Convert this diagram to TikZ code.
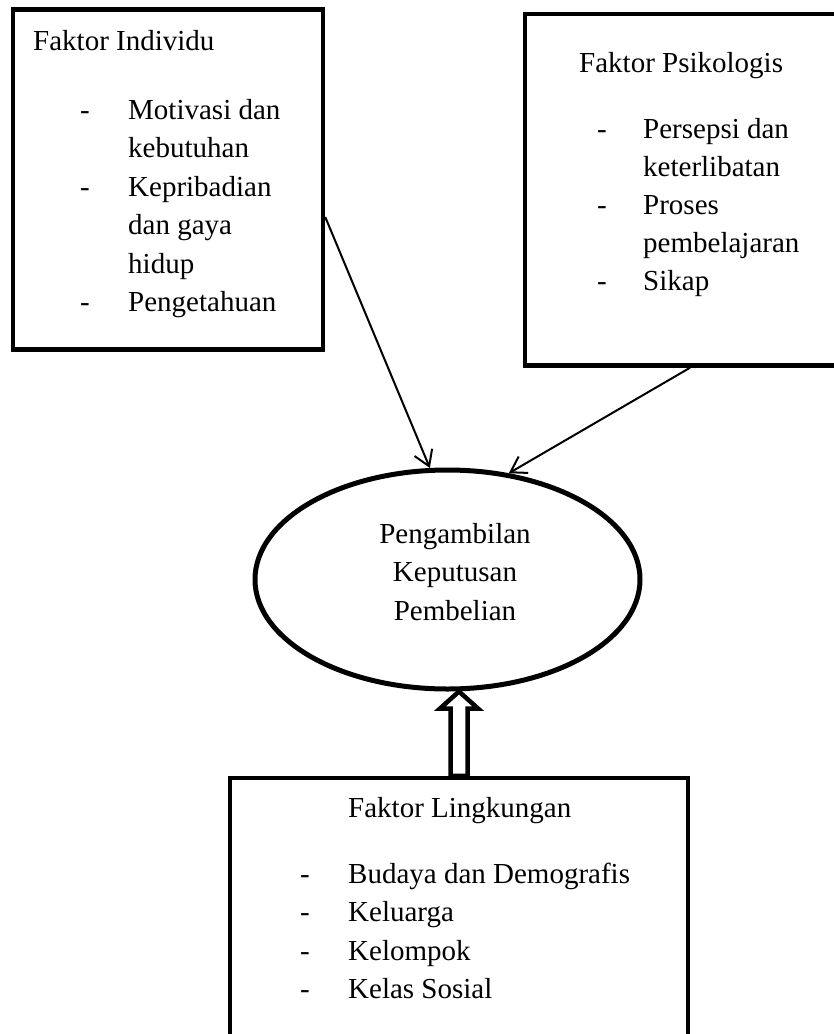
\documentclass[tikz,border=0pt]{standalone}
\usepackage{fontspec}
\setmainfont{Liberation Serif}
\usetikzlibrary{shapes.geometric,arrows.meta,calc}

\newcommand{\daftar}[2]{\begin{tabular}[t]{@{}p{#1}@{}l@{}}#2\end{tabular}}

\tikzset{
    every node/.style={font=\fontsize{29}{38.5}\selectfont},
    kotak/.style={draw=black, line width=4.5pt, inner sep=0pt},
    teks/.style={anchor=base west, inner sep=0pt},
    panah/.style={line width=2pt, -{Straight Barb[length=15pt,width=19pt]}},
    blok/.style={draw=black, fill=white, line width=4.5pt, line join=miter}
}

\begin{document}
\begin{tikzpicture}[x=1pt, y=-1pt]
                \useasboundingbox (0,0) rectangle (834,1034);
                \clip (0,0) rectangle (834,1034);

                % kotak faktor
                \node[kotak, minimum width=310pt, minimum height=340pt] (individu) at (168,179.5) {};
                \node[kotak, minimum width=330pt, minimum height=351.5pt] (psikologis) at (690,189.75) {};
                \node[kotak, minimum width=458pt, minimum height=322pt] (lingkungan) at (459,939) {};
                \node[ellipse, draw=black, line width=5pt, inner sep=0pt, minimum width=385pt, minimum height=219pt] (keputusan) at (447.5,579.5) {};

                % isi kotak
                \node[teks] (judul1) at (33,50) {Faktor Individu};
                \node[teks] (isi1) at (80,119) {\daftar{48pt}{-&Motivasi dan\\&kebutuhan\\-&Kepribadian\\&dan gaya\\&hidup\\-&Pengetahuan}};
                \node[teks] (judul2) at (579,72) {Faktor Psikologis};
                \node[teks, font=\fontsize{29}{38}\selectfont] (isi2) at (597,138) {\daftar{46pt}{-&Persepsi dan\\&keterlibatan\\-&Proses\\&pembelajaran\\-&Sikap}};
                \node[teks] (judul3) at (348,817) {Faktor Lingkungan};
                \node[teks] (isi3) at (300,883) {\daftar{48pt}{-&Budaya dan Demografis\\-&Keluarga\\-&Kelompok\\-&Kelas Sosial}};
                \node[anchor=base, inner sep=0pt] (judul4) at (455,543) {\begin{tabular}[t]{@{}c@{}}Pengambilan\\Keputusan\\Pembelian\end{tabular}};

                \draw[panah] ([yshift=-37.5pt]individu.east) -- (keputusan.99);
                \draw[panah] (psikologis.south) -- (keputusan.60);

                \coordinate (ujung) at (keputusan.south -| lingkungan.north);
                \draw[blok] (ujung) -- ++(19,17) -- ++(-10.5,0) coordinate (a) -- (a |- lingkungan.north)
                    -- ++(-17,0) coordinate (b) -- (b |- a) -- ++(-10.5,0) -- cycle;
            \end{tikzpicture}
\end{document}
